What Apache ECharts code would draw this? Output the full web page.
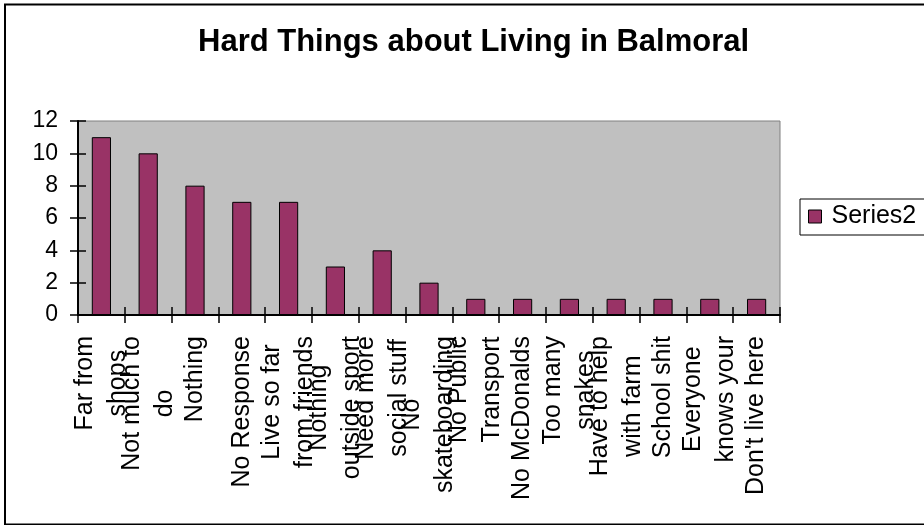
<!DOCTYPE html>
<html>
<head>
<meta charset="utf-8">
<script src="https://cdn.jsdelivr.net/npm/echarts@6/dist/echarts.min.js"></script>
<style>
  html, body { margin: 0; padding: 0; background: #fff; }
  #chart { width: 924px; height: 525px; }
</style>
</head>
<body>
<div id="chart"></div>
<script>
// Survey answers: what is hard about living in Balmoral (line breaks as wrapped on the axis)
const categories = [
  'Far from\nshops', 'Not much to\ndo', 'Nothing', 'No Response',
  'Live so far\nfrom friends', 'Nothing\noutside sport', 'Need more\nsocial stuff',
  'No\nskateboarding', 'No Public\nTransport', 'No McDonalds', 'Too many\nsnakes',
  'Have to help\nwith farm', 'School shit', 'Everyone\nknows your', "Don't live here"
];
const series2 = [11, 10, 8, 7, 7, 3, 4, 2, 1, 1, 1, 1, 1, 1, 1];
const seriesName = 'Series2';
const titleText = 'Hard Things about Living in Balmoral';
const yMin = 0, yMax = 12, yStep = 2;

const FONT = "'Liberation Sans', Arial, sans-serif";

// each wrapped line is centred inside the label block
function centredLines(value) {
  return value.split('\n').map(s => '{c|' + s + '}').join('\n');
}

const chart = echarts.init(document.getElementById('chart'), null, { renderer: 'canvas' });

const tickStyle = { color: '#000', width: 1.5 };

chart.setOption({
  animation: false,
  backgroundColor: '#fff',
  title: {
    text: titleText,
    left: 193,
    top: 22,
    textStyle: { fontFamily: FONT, fontSize: 31, fontWeight: 'bold', color: '#000' }
  },
  legend: {
    data: [seriesName],
    left: 800,
    top: 199,
    orient: 'vertical',
    padding: [5, 60, 6, 8],
    borderColor: '#000',
    borderWidth: 1,
    itemWidth: 13,
    itemHeight: 13,
    icon: 'rect',
    itemStyle: { borderColor: '#000', borderWidth: 1 },
    textStyle: { fontFamily: FONT, fontSize: 25, color: '#000', padding: [0, 0, 0, 5] }
  },
  grid: {
    left: 78,
    right: 144,
    top: 121,
    bottom: 210,
    show: true,
    backgroundColor: '#c0c0c0',
    borderColor: '#808080',
    borderWidth: 1
  },
  xAxis: [
    {
      type: 'category',
      data: categories,
      boundaryGap: true,
      axisLine: { show: true, lineStyle: { color: '#000', width: 2 } },
      axisTick: { show: true, interval: 0, length: 8, lineStyle: tickStyle },
      axisLabel: {
        interval: 0,
        rotate: 90,
        margin: 21,
        color: '#000',
        fontFamily: FONT,
        fontSize: 25,
        lineHeight: 33,
        formatter: centredLines,
        rich: { c: { align: 'center', fontFamily: FONT, fontSize: 25, lineHeight: 33, color: '#000' } }
      },
      splitLine: { show: false }
    },
    {
      // inner half of the crossing tick marks
      type: 'category',
      data: categories,
      position: 'bottom',
      boundaryGap: true,
      axisLine: { show: false },
      axisTick: { show: true, inside: true, interval: 0, length: 8, lineStyle: tickStyle },
      axisLabel: { show: false },
      splitLine: { show: false }
    }
  ],
  yAxis: [
    {
      type: 'value',
      min: yMin,
      max: yMax,
      interval: yStep,
      axisLine: { show: true, lineStyle: { color: '#000', width: 2 } },
      axisTick: { show: true, length: 8, lineStyle: tickStyle },
      axisLabel: { margin: 20, color: '#000', fontFamily: FONT, fontSize: 23 },
      splitLine: { show: false }
    },
    {
      type: 'value',
      position: 'left',
      min: yMin,
      max: yMax,
      interval: yStep,
      axisLine: { show: false },
      axisTick: { show: true, inside: true, length: 8, lineStyle: tickStyle },
      axisLabel: { show: false },
      splitLine: { show: false }
    }
  ],
  series: [
    {
      name: seriesName,
      type: 'bar',
      xAxisIndex: 0,
      yAxisIndex: 0,
      data: series2,
      barWidth: '41%',
      itemStyle: { color: '#993366', borderColor: '#000', borderWidth: 1 }
    }
  ],
  graphic: [
    {
      type: 'rect',
      shape: { x: 5, y: 4.5, width: 940, height: 520 },
      style: { fill: null, stroke: '#000', lineWidth: 2 },
      silent: true,
      z: 100
    }
  ]
});
</script>
</body>
</html>
